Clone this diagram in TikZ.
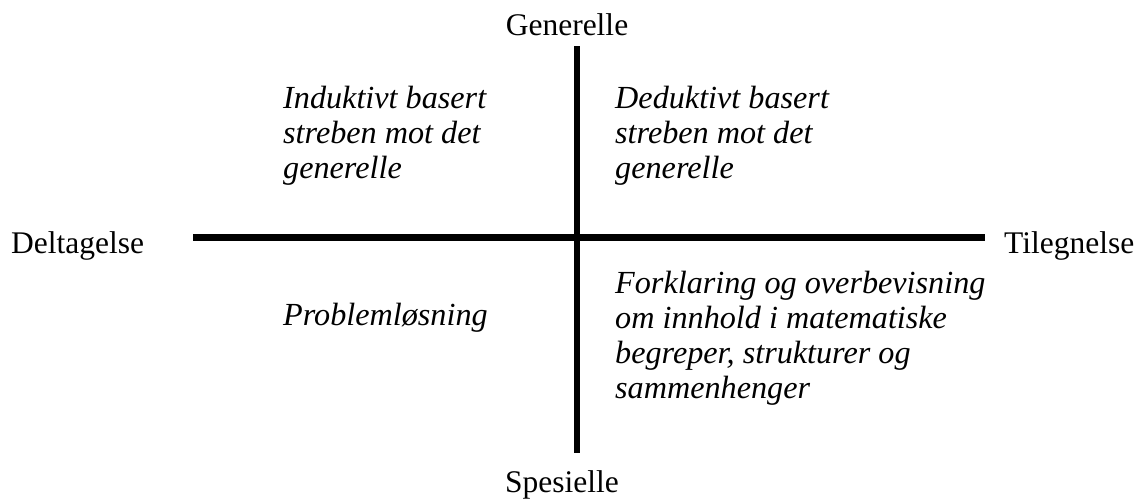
\documentclass[tikz,border=0pt]{standalone}
\usepackage{fontspec}
\setmainfont{Liberation Serif}
\begin{document}
\begin{tikzpicture}[x=1pt,y=-1pt,
  axis/.style={line width=7pt,black},
  lbl/.style={inner sep=0pt,font=\fontsize{31.5}{35}\selectfont},
  quad/.style={inner sep=0pt,align=left,font=\fontsize{32.2}{35}\selectfont\itshape}]
\useasboundingbox (0,0) rectangle (1145,498);
\coordinate (L) at (193,237.5);
\coordinate (R) at (985,237.5);
\coordinate (T) at (577,46);
\coordinate (B) at (577,453);
\draw[axis] (L) -- (R);
\draw[axis,line width=6.5pt] (T) -- (B);
\node[lbl,anchor=base] (gen) at (567,35) {Generelle};
\node[lbl,anchor=base] (spe) at (562,492) {Spesielle};
\node[lbl,anchor=base west] (del) at (11,253) {Deltagelse};
\node[lbl,anchor=base west] (til) at (1004,253) {Tilegnelse};
\node[quad,anchor=base west] (ind) at (283,178) {Induktivt basert\\streben mot det\\generelle};
\node[quad,anchor=base west] (ded) at (615,178) {Deduktivt basert\\streben mot det\\generelle};
\node[quad,anchor=base west] (pro) at (283,325) {Problemløsning};
\node[quad,anchor=base west] (for) at (615,398) {Forklaring og overbevisning\\om innhold i matematiske\\begreper, strukturer og\\sammenhenger};
\end{tikzpicture}
\end{document}
